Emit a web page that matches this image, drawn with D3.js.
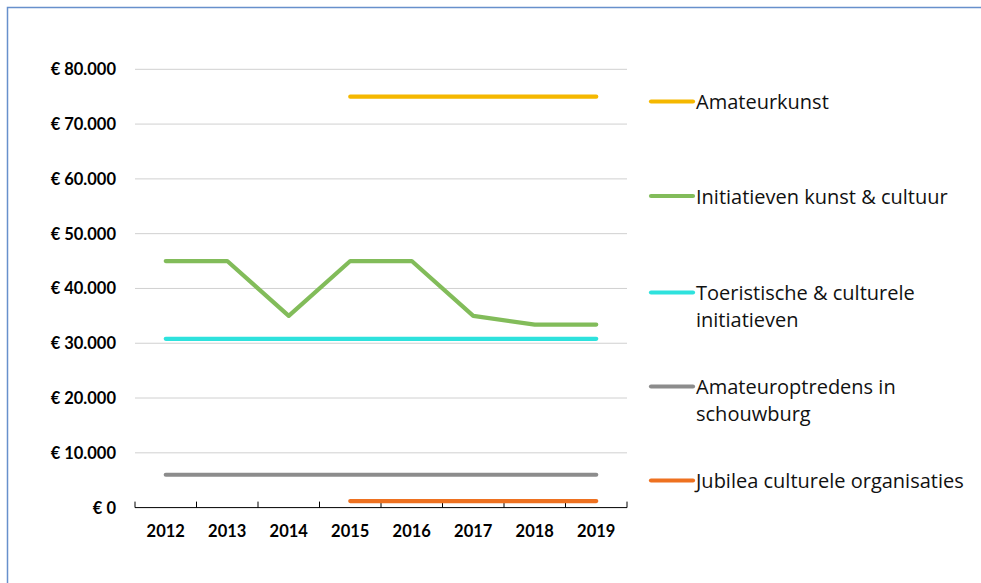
<!DOCTYPE html>
<html lang="nl">
<head>
<meta charset="utf-8">
<title>Subsidies cultuur</title>
<style>
  body { margin: 0; background: #fff; }
  svg { display: block; font-family: Lato, "Open Sans", sans-serif; }
</style>
</head>
<body>
<svg></svg>
<script src="https://d3js.org/d3.v7.min.js"></script>
<script>
var years = ["2012", "2013", "2014", "2015", "2016", "2017", "2018", "2019"];
var yTicks = [0, 10000, 20000, 30000, 40000, 50000, 60000, 70000, 80000];

var amateurkunst     = [null, null, null, 75000, 75000, 75000, 75000, 75000];
var initiatieven     = [45000, 45000, 35000, 45000, 45000, 35000, 33400, 33400];
var toeristische     = [30800, 30800, 30800, 30800, 30800, 30800, 30800, 30800];
var amateuroptredens = [6000, 6000, 6000, 6000, 6000, 6000, 6000, 6000];
var jubilea          = [null, null, null, 1200, 1200, 1200, 1200, 1200];

var seriesNames = [
  ["Amateurkunst"],
  ["Initiatieven kunst & cultuur"],
  ["Toeristische & culturele", "initiatieven"],
  ["Amateuroptredens in", "schouwburg"],
  ["Jubilea culturele organisaties"]
];
var seriesValues = [amateurkunst, initiatieven, toeristische, amateuroptredens, jubilea];
var colors = ["#f5b800", "#82bc5a", "#2ee2dd", "#8c8c8c", "#ee7120"];
var legendY = [101.5, 196, 292.5, 386.5, 480.5];

var width = 981, height = 583;
var svg = d3.select("svg").attr("width", width).attr("height", height);

// frame of the chart box
svg.append("rect")
   .attr("x", 7.5).attr("y", 7.5)
   .attr("width", width + 10).attr("height", height + 10)
   .attr("fill", "#fff")
   .attr("stroke", "#6790cc")
   .attr("stroke-width", 1.5);

var x = d3.scaleBand().domain(years).range([135, 627]).padding(0);
var y = d3.scaleLinear().domain([0, 80000]).range([507.6, 69.3]);

// gridlines
svg.append("g")
   .selectAll("line")
   .data(yTicks.slice(1))
   .enter()
   .append("line")
   .attr("x1", 135).attr("x2", 627)
   .attr("y1", function(d){ return y(d); })
   .attr("y2", function(d){ return y(d); })
   .style("stroke", "#d0d0d0")
   .style("stroke-width", 1);

// y labels
svg.append("g")
   .selectAll("text")
   .data(yTicks)
   .enter()
   .append("text")
   .attr("x", 116)
   .attr("y", function(d){ return y(d); })
   .attr("dy", "0.36em")
   .attr("text-anchor", "end")
   .style("font-size", "16.5px")
   .style("font-weight", "bold")
   .style("fill", "#000")
   .text(function(d){ return d === 0 ? "€ 0" : "€ " + d3.format(",")(d).replace(/,/g, "."); });

// x axis, ticks between categories pointing inward
var xAxis = svg.append("g").attr("transform", "translate(0," + y(0) + ")");
xAxis.append("line")
     .attr("x1", 135).attr("x2", 627)
     .style("stroke", "#000").style("stroke-width", 1);
xAxis.selectAll(".tk")
     .data(years.concat(["end"]))
     .enter()
     .append("line")
     .attr("class", "tk")
     .attr("x1", function(d, i){ return i < years.length ? x(d) : x.range()[1]; })
     .attr("x2", function(d, i){ return i < years.length ? x(d) : x.range()[1]; })
     .attr("y1", 0).attr("y2", -6)
     .style("stroke", "#000").style("stroke-width", 1);
xAxis.selectAll("text")
     .data(years)
     .enter()
     .append("text")
     .attr("x", function(d){ return x(d) + x.bandwidth() / 2; })
     .attr("y", 29.5)
     .attr("text-anchor", "middle")
     .style("font-size", "16.5px")
     .style("font-weight", "bold")
     .text(function(d){ return d; });

// lines
var line = d3.line()
  .defined(function(d){ return d != null; })
  .x(function(d, i){ return x(years[i]) + x.bandwidth() / 2; })
  .y(function(d){ return y(d); });

var order = [4, 3, 2, 1, 0];
order.forEach(function(k){
  svg.append("path")
     .datum(seriesValues[k])
     .attr("d", line)
     .style("fill", "none")
     .style("stroke", colors[k])
     .style("stroke-width", 4.2)
     .style("stroke-linecap", "round")
     .style("stroke-linejoin", "round");
});

// legend
var legend = svg.append("g");
seriesNames.forEach(function(names, k){
  var g = legend.append("g").attr("transform", "translate(0," + legendY[k] + ")");
  g.append("line")
   .attr("x1", 651).attr("x2", 693)
   .style("stroke", colors[k])
   .style("stroke-width", 4.2)
   .style("stroke-linecap", "round");
  names.forEach(function(t, j){
    g.append("text")
     .attr("x", 696)
     .attr("y", 0.5 + j * 26.5)
     .attr("dy", "0.36em")
     .style("font-family", "'Open Sans', sans-serif")
     .style("font-size", "20px")
     .style("fill", "#111")
     .text(t);
  });
});
</script>
</body>
</html>
